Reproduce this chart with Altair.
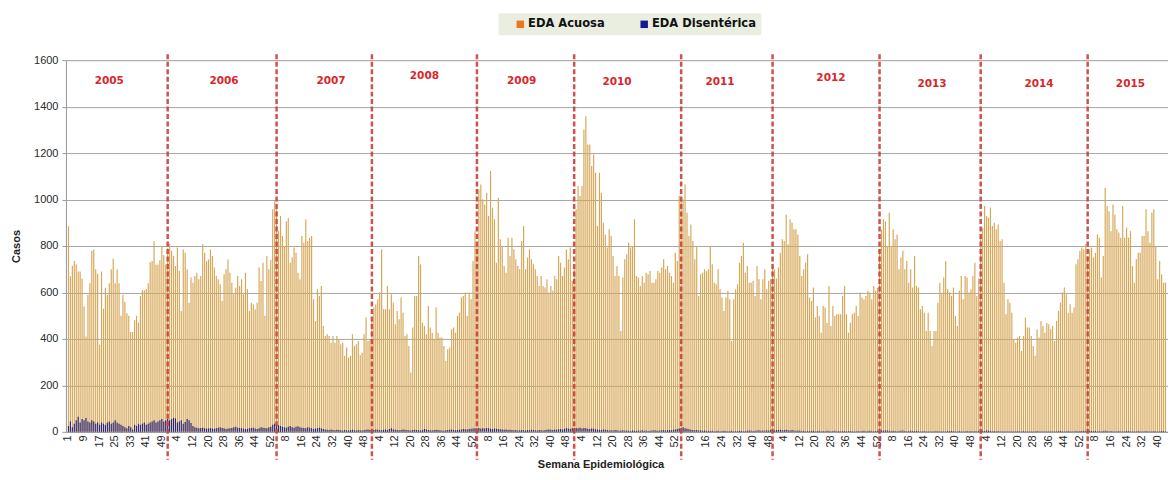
import altair as alt
import pandas as pd

years = [2005, 2006, 2007, 2008, 2009, 2010, 2011, 2012, 2013, 2014, 2015]

acuosa_2005 = [885, 670, 715, 735, 720, 690, 690, 660, 540, 410, 590, 640, 780, 785, 700, 680, 375, 690, 530, 620,
               590, 640, 700, 745, 640, 700, 640, 500, 590, 560, 510, 500, 430, 430, 480, 500, 470, 585, 610, 610,
               615, 640, 730, 735, 820, 720, 720, 740, 800, 760, 720, 790, 810]
acuosa_2006 = [780, 757, 714, 793, 692, 520, 785, 771, 700, 556, 664, 642, 671, 685, 657, 671, 807, 771, 735, 742,
               785, 757, 707, 671, 657, 635, 563, 678, 700, 742, 685, 642, 592, 620, 671, 628, 657, 592, 685, 614,
               520, 556, 549, 528, 556, 707, 649, 728, 500, 757, 700, 740]
acuosa_2007 = [958, 993, 958, 864, 929, 843, 800, 907, 921, 728, 750, 793, 771, 685, 657, 843, 814, 914, 821, 836,
               843, 571, 477, 614, 585, 628, 456, 413, 420, 413, 384, 413, 384, 413, 399, 377, 384, 327, 363, 320,
               327, 420, 370, 377, 390, 330, 340, 420, 492, 391, 399, 480]
acuosa_2008 = [535, 549, 571, 600, 786, 528, 528, 628, 528, 592, 556, 463, 520, 485, 578, 513, 413, 420, 370, 255,
               449, 585, 585, 757, 721, 470, 456, 420, 542, 449, 427, 399, 535, 427, 406, 406, 370, 305, 355, 363,
               442, 449, 427, 499, 513, 578, 585, 600, 499, 600, 571, 735]
acuosa_2009 = [864, 800, 1044, 1065, 1001, 979, 1029, 929, 1123, 965, 915, 728, 1008, 829, 800, 714, 685, 836, 757, 836,
               786, 743, 714, 700, 822, 886, 700, 750, 786, 743, 721, 700, 671, 628, 671, 628, 621, 657, 600, 628,
               607, 671, 657, 757, 728, 671, 707, 786, 743, 793, 650, 700]
acuosa_2010 = [958, 1058, 1015, 1058, 1302, 1359, 1237, 1237, 1144, 1194, 1115, 886, 1115, 1029, 900, 850, 793, 872, 843, 757,
               671, 714, 671, 434, 664, 743, 764, 814, 793, 800, 915, 671, 664, 628, 671, 642, 685, 678, 692, 642,
               642, 657, 692, 685, 707, 743, 700, 714, 685, 671, 642, 771]
acuosa_2011 = [735, 1015, 1001, 1001, 1065, 943, 843, 893, 822, 743, 800, 585, 678, 685, 700, 692, 700, 800, 721, 642,
               635, 700, 614, 578, 520, 578, 607, 571, 391, 571, 614, 635, 728, 757, 814, 685, 714, 642, 642, 649,
               585, 714, 657, 571, 657, 700, 614, 650, 657, 714, 700, 660]
acuosa_2012 = [707, 771, 829, 822, 936, 807, 915, 900, 872, 872, 850, 757, 671, 700, 728, 764, 578, 563, 621, 492,
               542, 499, 427, 542, 535, 470, 628, 456, 542, 499, 506, 506, 506, 585, 628, 506, 427, 470, 506, 513,
               542, 499, 600, 578, 571, 585, 607, 600, 571, 628, 607, 620]
acuosa_2013 = [786, 870, 915, 907, 800, 943, 800, 872, 829, 850, 700, 750, 779, 700, 735, 642, 700, 621, 757, 628,
               621, 528, 542, 513, 434, 513, 434, 370, 434, 434, 556, 642, 592, 664, 735, 614, 600, 585, 621, 499,
               456, 607, 671, 571, 671, 664, 600, 614, 671, 728, 585, 660]
acuosa_2014 = [850, 879, 972, 929, 922, 965, 886, 900, 872, 893, 822, 829, 642, 506, 571, 556, 513, 399, 384, 406,
               413, 348, 413, 492, 449, 449, 413, 370, 327, 442, 406, 477, 456, 427, 470, 463, 442, 456, 391, 477,
               520, 556, 600, 621, 592, 513, 549, 513, 535, 721, 743, 780]
acuosa_2015 = [793, 786, 807, 757, 786, 793, 750, 771, 850, 836, 664, 757, 1051, 972, 950, 864, 979, 936, 872, 858,
               836, 972, 836, 879, 836, 864, 714, 642, 743, 771, 771, 843, 843, 958, 864, 814, 943, 958, 800, 657,
               735, 678, 642, 642]

disent_2005 = [25, 45, 20, 35, 50, 65, 40, 55, 50, 60, 45, 40, 50, 45, 35, 40, 30, 40, 35, 30,
               40, 45, 35, 40, 50, 40, 35, 30, 25, 20, 15, 25, 20, 10, 30, 25, 35, 30, 35, 40,
               30, 35, 40, 45, 50, 40, 45, 50, 55, 45, 50, 55, 50]
disent_2006 = [55, 60, 58, 40, 45, 50, 35, 42, 55, 50, 38, 25, 20, 18, 15, 16, 18, 15, 14, 15,
               16, 14, 13, 15, 18, 20, 16, 15, 12, 14, 15, 17, 20, 22, 18, 16, 15, 14, 12, 13,
               15, 16, 18, 14, 12, 15, 20, 18, 16, 15, 20, 22]
disent_2007 = [30, 35, 32, 28, 25, 22, 20, 18, 22, 25, 20, 18, 22, 24, 20, 18, 16, 15, 20, 18,
               15, 12, 14, 16, 18, 15, 12, 10, 9, 8, 10, 8, 7, 9, 8, 7, 6, 8, 7, 6,
               8, 9, 7, 6, 8, 7, 6, 8, 9, 10, 8, 7]
disent_2008 = [8, 10, 9, 8, 7, 9, 10, 8, 12, 15, 10, 9, 8, 7, 8, 10, 9, 8, 7, 6,
               8, 9, 8, 7, 6, 8, 12, 10, 8, 7, 6, 8, 9, 8, 7, 6, 5, 7, 8, 9,
               10, 8, 7, 8, 9, 10, 12, 11, 10, 12, 13, 14]
disent_2009 = [15, 14, 16, 13, 15, 14, 16, 15, 13, 12, 14, 13, 12, 11, 10, 9, 10, 8, 9, 8,
               7, 8, 6, 7, 8, 7, 6, 8, 7, 9, 8, 7, 6, 8, 7, 6, 8, 9, 10, 9,
               8, 10, 9, 11, 12, 10, 13, 15, 14, 12, 15, 16]
disent_2010 = [16, 15, 18, 14, 16, 15, 13, 12, 14, 13, 11, 10, 9, 8, 10, 9, 8, 6, 7, 6,
               8, 7, 5, 6, 7, 5, 6, 5, 4, 6, 5, 4, 6, 5, 7, 5, 6, 4, 5, 6,
               7, 6, 5, 6, 7, 8, 6, 7, 8, 7, 9, 10]
disent_2011 = [12, 14, 16, 20, 15, 13, 11, 9, 8, 7, 8, 6, 7, 5, 6, 4, 5, 4, 5, 3,
               4, 5, 3, 4, 5, 4, 3, 4, 5, 3, 4, 3, 5, 4, 3, 4, 5, 6, 5, 4,
               5, 6, 7, 5, 6, 5, 7, 6, 8, 7, 6, 8]
disent_2012 = [8, 9, 7, 8, 9, 7, 6, 8, 6, 5, 6, 5, 4, 5, 3, 4, 3, 4, 5, 3,
               4, 5, 3, 4, 3, 5, 4, 3, 4, 5, 3, 4, 3, 4, 3, 2, 3, 4, 3, 2,
               3, 4, 3, 4, 5, 3, 4, 5, 4, 3, 4, 5]
disent_2013 = [5, 6, 5, 7, 6, 5, 4, 5, 4, 3, 4, 5, 6, 4, 3, 4, 5, 4, 3, 4,
               3, 2, 3, 4, 3, 2, 3, 2, 3, 4, 3, 2, 3, 2, 3, 4, 3, 4, 3, 2,
               3, 4, 3, 2, 3, 4, 3, 4, 3, 4, 3, 5]
disent_2014 = [4, 5, 4, 6, 5, 4, 3, 4, 3, 4, 3, 2, 3, 2, 3, 2, 3, 2, 3, 4,
               3, 2, 3, 2, 3, 2, 3, 2, 3, 4, 3, 2, 3, 2, 3, 2, 3, 2, 3, 2,
               3, 4, 3, 2, 3, 4, 3, 2, 3, 4, 3, 4]
disent_2015 = [4, 5, 4, 6, 5, 4, 3, 4, 3, 4, 3, 4, 5, 4, 3, 4, 3, 2, 3, 4,
               3, 2, 3, 4, 3, 2, 3, 2, 3, 4, 3, 2, 3, 4, 3, 2, 3, 4, 3, 2,
               3, 4, 3, 2]

# year separator lines (year, week) and year labels (week where the label sits)
line_year = [2005, 2007, 2007, 2009, 2009, 2011, 2011, 2013, 2014, 2015]
line_week = [52, 3, 52, 2, 52, 3, 50, 1, 1, 4]
label_week = [22, 28, 31, 27, 25, 22, 23, 28, 28, 31, 26]
label_val = [1510, 1510, 1510, 1531, 1510, 1505, 1505, 1523, 1497, 1497, 1497]

series_names = ["EDA Acuosa", "EDA Disentérica"]

acuosa = dict(zip(years, [acuosa_2005, acuosa_2006, acuosa_2007, acuosa_2008, acuosa_2009, acuosa_2010,
                          acuosa_2011, acuosa_2012, acuosa_2013, acuosa_2014, acuosa_2015]))
disent = dict(zip(years, [disent_2005, disent_2006, disent_2007, disent_2008, disent_2009, disent_2010,
                          disent_2011, disent_2012, disent_2013, disent_2014, disent_2015]))

rows = []
for y in years:
    a, d = acuosa[y], disent[y]
    n = min(len(a), len(d))
    for w in range(n):
        rows.append({"key": f"{y}|{w + 1}", "Acuosa": a[w], "Dis": d[w]})
df = pd.DataFrame(rows)
keys = list(df["key"])
tick_keys = keys[::8]

lines_df = pd.DataFrame({"key": [f"{y}|{w}" for y, w in zip(line_year, line_week)]})
labels_df = pd.DataFrame({
    "key": [f"{y}|{w}" for y, w in zip(years, label_week)],
    "label": [str(y) for y in years],
    "val": label_val,
})
legend_df = pd.DataFrame({"serie": series_names})

W, H = 1103, 372
xscale = alt.Scale(domain=keys, paddingInner=0.4, paddingOuter=1)
yscale = alt.Scale(domain=[0, 1600], nice=False)

x_axis = alt.Axis(values=tick_keys, labelExpr="split(datum.value, '|')[1]", labelAngle=-90,
                  labelFont="Liberation Sans", labelFontSize=11, labelColor="#2A2A2A", labelPadding=3,
                  ticks=False, domainColor="#9A9A9A", grid=False,
                  title="Semana Epidemiológica", titleFont="Liberation Sans", titleFontSize=11,
                  titleFontWeight="bold", titleColor="#222222", titlePadding=11, titleX=535)
y_axis = alt.Axis(values=list(range(0, 1601, 200)), format="d", grid=True, gridColor="#A6A6A6", gridWidth=1,
                  domainColor="#9A9A9A", tickColor="#9A9A9A", tickSize=4,
                  labelFont="Liberation Sans", labelFontSize=11, labelColor="#2A2A2A", labelPadding=4,
                  title="Casos", titleFont="Liberation Sans", titleFontSize=11, titleFontWeight="bold",
                  titleColor="#222222", titlePadding=12)

bars_a = alt.Chart(df).mark_bar(color="#D6A757").encode(
    x=alt.X("key:O", scale=xscale, axis=x_axis),
    y=alt.Y("Acuosa:Q", scale=yscale, axis=y_axis),
)
bars_d = alt.Chart(df).mark_bar(color="#2F2878").encode(
    x=alt.X("key:O", scale=xscale, axis=x_axis),
    y=alt.Y("Dis:Q", scale=yscale, axis=y_axis),
)
rules = alt.Chart(lines_df).mark_rule(color="#C9403A", strokeWidth=2.5, strokeDash=[5, 2.5], opacity=0.9).encode(
    x=alt.X("key:O", scale=xscale, axis=x_axis),
    y=alt.value(-6),
    y2=alt.value(H + 28),
)
year_text = alt.Chart(labels_df).mark_text(font="DejaVu Sans", fontWeight="bold", fontSize=10.5,
                                           color="#D8262B").encode(
    x=alt.X("key:O", scale=xscale, axis=x_axis),
    y=alt.Y("val:Q", scale=yscale, axis=y_axis),
    text="label:N",
)
legend_layer = alt.Chart(legend_df).mark_square(opacity=0, size=1).encode(
    color=alt.Color("serie:N", scale=alt.Scale(domain=series_names, range=["#E8781E", "#1A1A90"]),
                    legend=alt.Legend(title=None, orient="none", legendX=433, legendY=-47,
                                      direction="horizontal", fillColor="#E9EEE1", padding=5,
                                      labelFont="DejaVu Sans", labelFontSize=11.5, labelFontWeight="bold",
                                      labelColor="#111111",
                                      symbolType="square", symbolSize=56, symbolOpacity=1, symbolOffset=11,
                                      symbolStrokeWidth=0, labelOffset=2, columnPadding=22))
)

chart = alt.layer(bars_a, bars_d, rules, year_text, legend_layer).properties(
    width=W, height=H,
    padding={"top": 5, "left": 2, "right": 0, "bottom": 0},
).configure_view(stroke=None).configure(background="white")

chart.save("out.html", embed_options={"renderer": "svg", "actions": False})
